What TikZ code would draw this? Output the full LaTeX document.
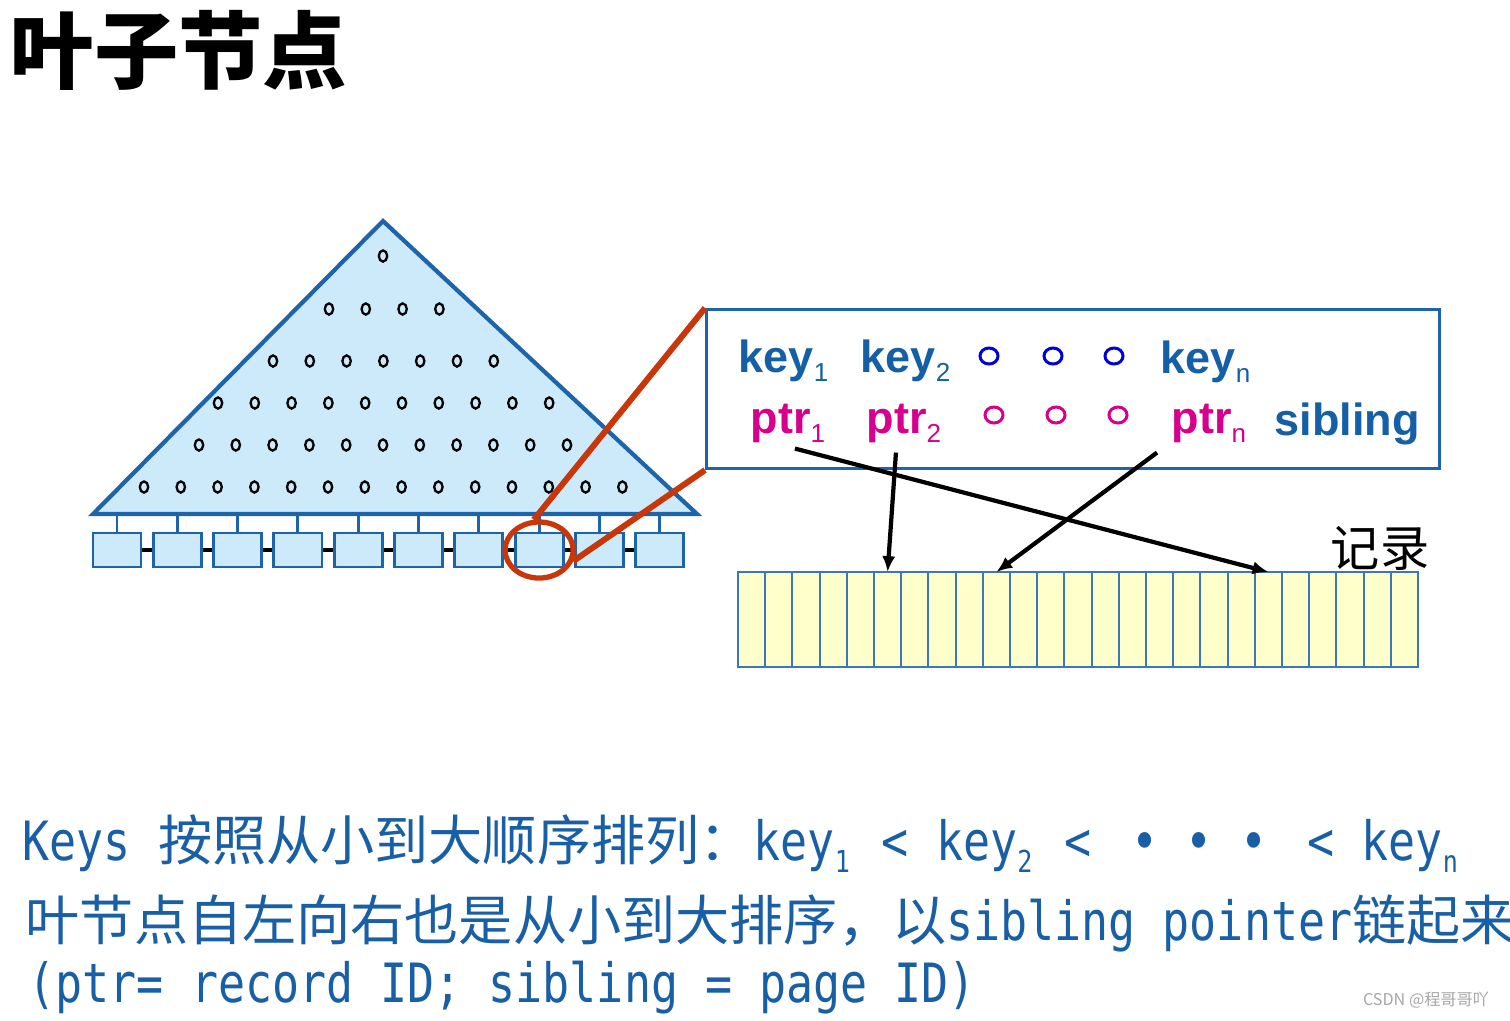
\documentclass[tikz,border=0pt]{standalone}
\usepackage{fontspec}
\usetikzlibrary{shapes.geometric,arrows.meta}
\newfontfamily\cjk{Noto Sans CJK SC}
\newfontfamily\keyfont{Liberation Sans}
\newfontfamily\monof[FakeStretch=0.83]{DejaVu Sans Mono}
\definecolor{treeblue}{RGB}{30,100,170}
\definecolor{treefill}{RGB}{204,234,250}
\definecolor{keyblue}{RGB}{20,95,165}
\definecolor{ptrpink}{RGB}{214,0,140}
\definecolor{dotblue}{RGB}{0,0,220}
\definecolor{lensred}{RGB}{200,55,10}
\definecolor{recfill}{RGB}{255,255,204}
\definecolor{recline}{RGB}{60,120,185}
\definecolor{textblue}{RGB}{25,95,165}
\newcommand\boxsub[1]{\raisebox{-2.8pt}{\fontsize{7.4}{8}\selectfont\mdseries #1}}
\newcommand\linesub[1]{\makebox[0.2cm][l]{\raisebox{-3.6pt}{\fontsize{8.6}{9}\selectfont #1}}}
\newcommand\dotcell{\makebox[0.54cm]{\monof •}}
\begin{document}
\begin{tikzpicture}[x=0.01cm, y=-0.01cm,
    leafbox/.style={draw=treeblue, fill=treefill, line width=0.8pt, minimum width=0.48cm, minimum height=0.34cm, inner sep=0pt},
    stem/.style={treeblue, line width=0.8pt},
    leaflink/.style={black, line width=1pt},
    treedot/.style={black, line width=0.65pt},
    lensring/.style={ellipse, draw=lensred, line width=1.5pt, minimum width=0.68cm, minimum height=0.56cm, inner sep=0pt},
    lensline/.style={lensred, line width=1.7pt},
    infobox/.style={draw=treeblue, line width=0.85pt, minimum width=7.33cm, minimum height=1.59cm, inner sep=0pt, anchor=north west},
    keytext/.style={anchor=base west, inner sep=0pt, text=keyblue, font=\keyfont\bfseries\fontsize{12.8}{15}\selectfont},
    ptrtext/.style={keytext, text=ptrpink},
    reccell/.style={draw=recline, fill=recfill, line width=0.6pt, minimum width=0.272cm, minimum height=0.95cm, inner sep=0pt, outer sep=0pt},
    ptrarrow/.style={-{Latex[length=4.5pt,width=3.8pt]}, black, line width=1.2pt},
    bottomtext/.style={anchor=base west, inner sep=0pt, text=textblue, font=\cjk\fontsize{15.4}{18}\selectfont}]
    \useasboundingbox (0,0) rectangle (1510,1020);

    % 标题
    \node[anchor=base west, inner sep=0pt, font=\cjk\bfseries\fontsize{24}{28}\selectfont] (title) at (9,82) {叶子节点};

    % B+树
    \draw[treeblue, fill=treefill, line width=1.2pt, line join=miter] (383,221) -- (697,514) -- (93,514) -- cycle;
    \foreach \yy/\xx/\n in {256/383/1, 309/329/4, 361/273/7, 403/218/10, 445/199/11, 487/144/14}
        \foreach \k in {1,...,\n}
            \draw[treedot] ({\xx+36.8*(\k-1)},\yy) ellipse (0.042cm and 0.056cm);

    % 叶节点
    \foreach \i in {1,...,10} {
        \node[leafbox] (leaf\i) at ({117+60.3*(\i-1)},550) {};
        \draw[stem] (leaf\i.north) -- ++(0,-19);
    }
    \foreach \i in {1,...,9} {
        \pgfmathtruncatemacro\j{\i+1}
        \draw[leaflink] (leaf\i.east) -- (leaf\j.west);
    }

    % 放大
    \node[infobox] (zoombox) at (705,308) {};
    \node[lensring] (lens) at (leaf8) {};
    \draw[lensline] (zoombox.north west) -- (lens.100);
    \draw[lensline] (zoombox.south west) -- (lens.-18);

    \node[keytext] (key1) at (738,372) {key\boxsub{1}};
    \node[keytext] (key2) at (860,372) {key\boxsub{2}};
    \node[keytext] (keyn) at (1160,373) {key\boxsub{n}};
    \node[ptrtext] (ptr1) at (750,433) {ptr\boxsub{1}};
    \node[ptrtext] (ptr2) at (866,433) {ptr\boxsub{2}};
    \node[ptrtext] (ptrn) at (1171,433) {ptr\boxsub{n}};
    \node[keytext] (sibling) at (1274,435) {sibling};
    \foreach \xx in {989,1053,1114}
        \draw[dotblue, line width=0.85pt] (\xx,356) ellipse (0.09cm and 0.08cm);
    \foreach \xx in {994,1056,1118}
        \draw[ptrpink, line width=0.85pt] (\xx,415) ellipse (0.09cm and 0.08cm);

    % 记录
    \foreach \i in {1,...,25}
        \node[reccell] (rec\i) at ({738+27.2*(\i-0.5)},619.5) {};
    \node[inner sep=0pt, font=\cjk\fontsize{14}{16}\selectfont] (recLabel) at (1380,548) {记录};

    \draw[ptrarrow] ([xshift=0.07cm,yshift=-0.05cm]ptr1.south) -- (rec20.north);
    \draw[ptrarrow] ([xshift=-0.08cm,yshift=-0.09cm]ptr2.south) -- (rec6.north);
    \draw[ptrarrow] ([xshift=-0.14cm,yshift=-0.09cm]ptrn.south west) -- (rec10.north);

    % 说明
    \node[bottomtext] (ruleA) at (22,860) {{\monof Keys }按照从小到大顺序排列：{\monof key\linesub{1} < key\linesub{2} < }\dotcell\dotcell\dotcell{\monof\ < key\linesub{n}}};
    \node[bottomtext] (ruleB) at (25,940) {叶节点自左向右也是从小到大排序，以{\monof sibling pointer}链起来};
    \node[bottomtext] (ruleC) at (28,1002) {{\monof (ptr= record ID; sibling = page ID)}};
    \node[inner sep=0pt, text=gray!70, font=\cjk\fontsize{4.6}{5}\selectfont] (mark) at (1426,1000) {CSDN @程哥哥吖};
\end{tikzpicture}
\end{document}
